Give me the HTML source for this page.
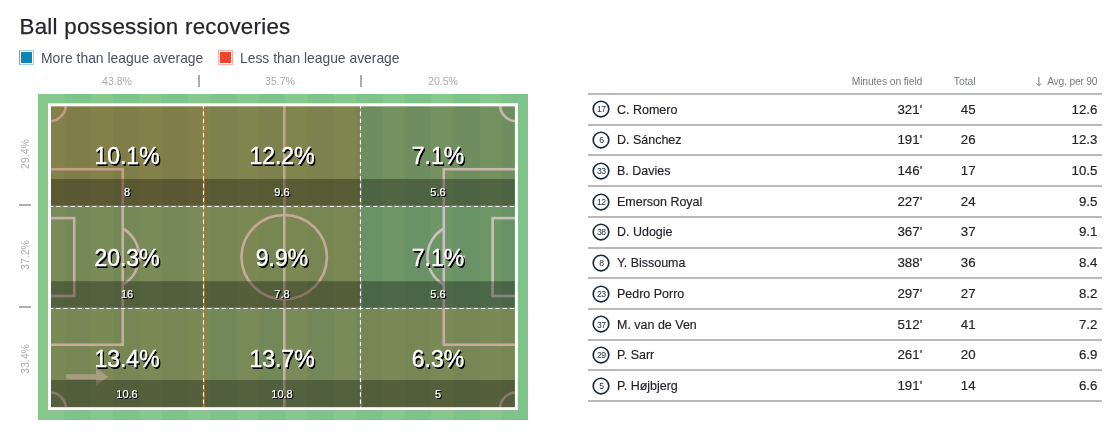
<!DOCTYPE html>
<html lang="en"><head><meta charset="utf-8"><title>Ball possession recoveries</title>
<style>
html,body{margin:0;padding:0;background:#fff}
body{width:1116px;height:436px;position:relative;overflow:hidden;font-family:"Liberation Sans", sans-serif;}
.pz{text-shadow:1.2px 1.2px 0.4px #000, 1px 1px 0 #000;}
.sm{-webkit-text-stroke:0.2px #fff;}
.big{-webkit-text-stroke:0.45px #fff;text-shadow:1.5px 1.5px 0.3px #000, 1.2px 1.2px 0 #000, 0.8px 0.8px 0 #000;}
.sq{position:absolute;box-sizing:border-box;width:15px;height:15px;top:50px;padding:1px;background-clip:content-box;}
.ln{position:absolute;left:588px;width:514px;height:2px;background:#b9b9b9;}
.num{position:absolute;width:18px;height:18px;left:592.4px;overflow:visible}
.num circle{fill:none;stroke:#17293f;stroke-width:1.65px}
.tb{-webkit-text-stroke:0.18px #24252c;}
</style></head><body>
<h1 style="position:absolute;top:11.97px;font-size:22.3px;line-height:29px;color:#25252f;white-space:nowrap;letter-spacing:0.27px;left:19.50px;margin:0;font-weight:400;-webkit-text-stroke:0.25px #25252f;">Ball possession recoveries</h1>
<div class="sq" style="left:19px;border:1px solid #a2d1e4;border-left-color:#5aaace;background-color:#0a87b8;"></div>
<div style="position:absolute;top:47.70px;font-size:15px;line-height:20px;color:#4b5160;white-space:nowrap;left:41.30px;transform:scaleX(.927);transform-origin:0 50%;">More than league average</div>
<div class="sq" style="left:218px;border:1px solid #f8b1a8;background-color:#ee4531;"></div>
<div style="position:absolute;top:47.70px;font-size:15px;line-height:20px;color:#4b5160;white-space:nowrap;left:240.10px;transform:scaleX(.924);transform-origin:0 50%;">Less than league average</div>
<div style="position:absolute;top:73.89px;font-size:11px;line-height:15px;color:#a9abb2;white-space:nowrap;left:-32.90px;width:300px;text-align:center;transform:scaleX(.955);">43.8%</div>
<div style="position:absolute;top:73.89px;font-size:11px;line-height:15px;color:#a9abb2;white-space:nowrap;left:129.80px;width:300px;text-align:center;transform:scaleX(.955);">35.7%</div>
<div style="position:absolute;top:73.89px;font-size:11px;line-height:15px;color:#a9abb2;white-space:nowrap;left:292.90px;width:300px;text-align:center;transform:scaleX(.955);">20.5%</div>
<div style="position:absolute;left:198px;top:75px;width:2px;height:12px;background:#adadad"></div>
<div style="position:absolute;left:360.2px;top:75px;width:2px;height:12px;background:#adadad"></div>
<div style="position:absolute;left:-5.1px;top:146.8px;width:60px;height:14px;line-height:14px;text-align:center;font-size:11px;color:#a9abb2;transform:rotate(-90deg) scaleX(.955);white-space:nowrap">29.4%</div>
<div style="position:absolute;left:-5.1px;top:248.2px;width:60px;height:14px;line-height:14px;text-align:center;font-size:11px;color:#a9abb2;transform:rotate(-90deg) scaleX(.955);white-space:nowrap">37.2%</div>
<div style="position:absolute;left:-5.1px;top:351.5px;width:60px;height:14px;line-height:14px;text-align:center;font-size:11px;color:#a9abb2;transform:rotate(-90deg) scaleX(.955);white-space:nowrap">33.4%</div>
<div style="position:absolute;left:19px;top:204px;width:12px;height:2px;background:#adadad"></div>
<div style="position:absolute;left:19px;top:306px;width:12px;height:2px;background:#adadad"></div>
<svg width="490" height="326" viewBox="38 94 490 326" style="position:absolute;left:38px;top:94px;display:block">
<rect x="38" y="94" width="490" height="326" fill="#86c78b"/>
<rect x="64.5" y="94" width="26.5" height="326" fill="#7ec38a"/>
<rect x="113.1" y="94" width="26.5" height="326" fill="#7ec38a"/>
<rect x="161.7" y="94" width="26.5" height="326" fill="#7ec38a"/>
<rect x="210.3" y="94" width="26.5" height="326" fill="#7ec38a"/>
<rect x="258.9" y="94" width="26.5" height="326" fill="#7ec38a"/>
<rect x="307.5" y="94" width="26.5" height="326" fill="#7ec38a"/>
<rect x="356.1" y="94" width="26.5" height="326" fill="#7ec38a"/>
<rect x="404.7" y="94" width="26.5" height="326" fill="#7ec38a"/>
<rect x="453.3" y="94" width="26.5" height="326" fill="#7ec38a"/>
<rect x="501.9" y="94" width="26.1" height="326" fill="#7ec38a"/>
<g fill="none" stroke="#fff" stroke-width="2.6">
<rect x="49.5" y="104.8" width="466.9" height="303.9"/>
<line x1="284.3" y1="104.8" x2="284.3" y2="408.7"/>
<ellipse cx="284.2" cy="257.1" rx="42.7" ry="42.1"/>
<rect x="49.5" y="169.25" width="73.25" height="175.5"/>
<rect x="443.8" y="169.25" width="72.60" height="175.5"/>
<rect x="49.5" y="218.1" width="24.70" height="77.90"/>
<rect x="492.6" y="218.1" width="23.80" height="77.90"/>
<path d="M122.75 228.5 A32.3 32.3 0 0 1 122.75 284.7"/>
<path d="M443.8 228.5 A32.3 32.3 0 0 0 443.8 284.7"/>
<path d="M65.9 104.8 A16.4 16.4 0 0 1 49.5 121.19999999999999"/>
<path d="M500.0 104.8 A16.4 16.4 0 0 0 516.4 121.19999999999999"/>
<path d="M65.9 408.7 A16.4 16.4 0 0 0 49.5 392.3"/>
<path d="M500.0 408.7 A16.4 16.4 0 0 1 516.4 392.3"/>
</g>
<circle cx="463.9" cy="256.7" r="1.3" fill="#fff"/>
<path d="M66.2 374.3H96V368.1L108.3 376.8L96 385.6V379.2H66.2Z" fill="#fff" fill-opacity="0.6"/>
<rect x="48" y="103.3" width="155.5" height="103.2" fill="rgb(130, 50, 0)" fill-opacity="0.475"/>
<rect x="48" y="179.0" width="155.5" height="27.5" fill="#000" fill-opacity="0.3"/>
<rect x="203.5" y="103.3" width="157.0" height="103.2" fill="rgb(122, 48, 0)" fill-opacity="0.445"/>
<rect x="203.5" y="179.0" width="157.0" height="27.5" fill="#000" fill-opacity="0.3"/>
<rect x="360.5" y="103.3" width="157.5" height="103.2" fill="rgb(78, 26, 0)" fill-opacity="0.31"/>
<rect x="360.5" y="179.0" width="157.5" height="27.5" fill="#000" fill-opacity="0.3"/>
<rect x="48" y="206.5" width="155.5" height="102.0" fill="rgb(100, 32, 0)" fill-opacity="0.36"/>
<rect x="48" y="281.2" width="155.5" height="27.3" fill="#000" fill-opacity="0.3"/>
<rect x="203.5" y="206.5" width="157.0" height="102.0" fill="rgb(109, 42, 0)" fill-opacity="0.4"/>
<rect x="203.5" y="281.2" width="157.0" height="27.3" fill="#000" fill-opacity="0.3"/>
<rect x="360.5" y="206.5" width="157.5" height="102.0" fill="rgb(46, 11, 0)" fill-opacity="0.26"/>
<rect x="360.5" y="281.2" width="157.5" height="27.3" fill="#000" fill-opacity="0.3"/>
<rect x="48" y="308.5" width="155.5" height="101.7" fill="rgb(106, 38, 0)" fill-opacity="0.385"/>
<rect x="48" y="380.0" width="155.5" height="30.2" fill="#000" fill-opacity="0.3"/>
<rect x="203.5" y="308.5" width="157.0" height="101.7" fill="rgb(96, 32, 0)" fill-opacity="0.355"/>
<rect x="203.5" y="380.0" width="157.0" height="30.2" fill="#000" fill-opacity="0.3"/>
<rect x="360.5" y="308.5" width="157.5" height="101.7" fill="rgb(104, 37, 0)" fill-opacity="0.38"/>
<rect x="360.5" y="380.0" width="157.5" height="30.2" fill="#000" fill-opacity="0.3"/>
<g stroke="#b06a24" stroke-opacity="0.75" stroke-width="0.9" fill="none">
<line x1="204.5" y1="103.3" x2="204.5" y2="410.2"/>
<line x1="361.5" y1="103.3" x2="361.5" y2="410.2"/>
<line x1="48" y1="205.5" x2="518" y2="205.5"/>
<line x1="48" y1="307.5" x2="518" y2="307.5"/>
</g>
<rect x="49.5" y="104.8" width="466.9" height="303.9" fill="none" stroke="#fff" stroke-width="3"/>
<g stroke="#fff" stroke-opacity="0.16" stroke-width="1.1" fill="none">
<line x1="203.5" y1="104.3" x2="203.5" y2="409.2"/>
<line x1="360.5" y1="104.3" x2="360.5" y2="409.2"/>
<line x1="49" y1="206.5" x2="517" y2="206.5"/>
<line x1="49" y1="308.5" x2="517" y2="308.5"/>
</g>
<g stroke="#fff" stroke-width="1.15" stroke-dasharray="4.2 3" fill="none">
<line x1="203.5" y1="104.3" x2="203.5" y2="409.2"/>
<line x1="360.5" y1="104.3" x2="360.5" y2="409.2"/>
<line x1="49" y1="206.5" x2="517" y2="206.5"/>
<line x1="49" y1="308.5" x2="517" y2="308.5"/>
</g>
</svg>
<div class="pz big" style="position:absolute;top:140.93px;font-size:23px;line-height:30px;color:#fff;white-space:nowrap;left:-23.00px;width:300px;text-align:center;">10.1%</div>
<div class="pz sm" style="position:absolute;top:184.69px;font-size:11px;line-height:15px;color:#fff;white-space:nowrap;left:-23.00px;width:300px;text-align:center;">8</div>
<div class="pz big" style="position:absolute;top:140.93px;font-size:23px;line-height:30px;color:#fff;white-space:nowrap;left:132.00px;width:300px;text-align:center;">12.2%</div>
<div class="pz sm" style="position:absolute;top:184.69px;font-size:11px;line-height:15px;color:#fff;white-space:nowrap;left:132.00px;width:300px;text-align:center;">9.6</div>
<div class="pz big" style="position:absolute;top:140.93px;font-size:23px;line-height:30px;color:#fff;white-space:nowrap;left:288.00px;width:300px;text-align:center;">7.1%</div>
<div class="pz sm" style="position:absolute;top:184.69px;font-size:11px;line-height:15px;color:#fff;white-space:nowrap;left:288.00px;width:300px;text-align:center;">5.6</div>
<div class="pz big" style="position:absolute;top:242.63px;font-size:23px;line-height:30px;color:#fff;white-space:nowrap;left:-23.00px;width:300px;text-align:center;">20.3%</div>
<div class="pz sm" style="position:absolute;top:286.69px;font-size:11px;line-height:15px;color:#fff;white-space:nowrap;left:-23.00px;width:300px;text-align:center;">16</div>
<div class="pz big" style="position:absolute;top:242.63px;font-size:23px;line-height:30px;color:#fff;white-space:nowrap;left:132.00px;width:300px;text-align:center;">9.9%</div>
<div class="pz sm" style="position:absolute;top:286.69px;font-size:11px;line-height:15px;color:#fff;white-space:nowrap;left:132.00px;width:300px;text-align:center;">7.8</div>
<div class="pz big" style="position:absolute;top:242.63px;font-size:23px;line-height:30px;color:#fff;white-space:nowrap;left:288.00px;width:300px;text-align:center;">7.1%</div>
<div class="pz sm" style="position:absolute;top:286.69px;font-size:11px;line-height:15px;color:#fff;white-space:nowrap;left:288.00px;width:300px;text-align:center;">5.6</div>
<div class="pz big" style="position:absolute;top:343.73px;font-size:23px;line-height:30px;color:#fff;white-space:nowrap;left:-23.00px;width:300px;text-align:center;">13.4%</div>
<div class="pz sm" style="position:absolute;top:386.59px;font-size:11px;line-height:15px;color:#fff;white-space:nowrap;left:-23.00px;width:300px;text-align:center;">10.6</div>
<div class="pz big" style="position:absolute;top:343.73px;font-size:23px;line-height:30px;color:#fff;white-space:nowrap;left:132.00px;width:300px;text-align:center;">13.7%</div>
<div class="pz sm" style="position:absolute;top:386.59px;font-size:11px;line-height:15px;color:#fff;white-space:nowrap;left:132.00px;width:300px;text-align:center;">10.8</div>
<div class="pz big" style="position:absolute;top:343.73px;font-size:23px;line-height:30px;color:#fff;white-space:nowrap;left:288.00px;width:300px;text-align:center;">6.3%</div>
<div class="pz sm" style="position:absolute;top:386.59px;font-size:11px;line-height:15px;color:#fff;white-space:nowrap;left:288.00px;width:300px;text-align:center;">5</div>
<div style="position:absolute;top:74.63px;font-size:10.3px;line-height:14px;color:#777b82;white-space:nowrap;letter-spacing:-0.1px;right:193.80px;">Minutes on field</div>
<div style="position:absolute;top:74.63px;font-size:10.3px;line-height:14px;color:#777b82;white-space:nowrap;right:140.40px;">Total</div>
<div style="position:absolute;top:74.63px;font-size:10.3px;line-height:14px;color:#777b82;white-space:nowrap;letter-spacing:-0.2px;right:18.60px;">Avg. per 90</div>
<svg width="8" height="12" viewBox="1035 76 8 12" style="position:absolute;left:1035px;top:76px"><path d="M1038.9 77V85.4M1036.7 83.4L1038.9 85.7L1041.1 83.4" fill="none" stroke="#74777e" stroke-width="1"/></svg>
<div class="ln" style="top:93.00px"></div>
<div class="ln" style="top:123.72px"></div>
<div class="ln" style="top:154.44px"></div>
<div class="ln" style="top:185.16px"></div>
<div class="ln" style="top:215.88px"></div>
<div class="ln" style="top:246.60px"></div>
<div class="ln" style="top:277.32px"></div>
<div class="ln" style="top:308.04px"></div>
<div class="ln" style="top:338.76px"></div>
<div class="ln" style="top:369.48px"></div>
<div class="ln" style="top:400.20px"></div>
<svg class="num" style="top:100.45px" viewBox="0 0 18 18"><circle cx="9" cy="9" r="7.8"/></svg>
<div style="position:absolute;top:103.47px;font-size:8.6px;line-height:12px;color:#17293f;white-space:nowrap;letter-spacing:-0.45px;left:451.55px;width:300px;text-align:center;text-indent:-0.45px;">17</div>
<div class="tb" style="position:absolute;top:100.56px;font-size:13.4px;line-height:18px;color:#24252c;white-space:nowrap;left:617.00px;transform:scaleX(.932);transform-origin:0 50%;">C. Romero</div>
<div class="tb" style="position:absolute;top:100.59px;font-size:13.3px;line-height:18px;color:#24252c;white-space:nowrap;right:193.80px;">321'</div>
<div class="tb" style="position:absolute;top:100.59px;font-size:13.3px;line-height:18px;color:#24252c;white-space:nowrap;right:140.40px;">45</div>
<div class="tb" style="position:absolute;top:100.59px;font-size:13.3px;line-height:18px;color:#24252c;white-space:nowrap;right:18.60px;">12.6</div>
<svg class="num" style="top:131.17px" viewBox="0 0 18 18"><circle cx="9" cy="9" r="7.8"/></svg>
<div style="position:absolute;top:134.19px;font-size:8.6px;line-height:12px;color:#17293f;white-space:nowrap;letter-spacing:-0.45px;left:451.55px;width:300px;text-align:center;text-indent:-0.45px;">6</div>
<div class="tb" style="position:absolute;top:131.28px;font-size:13.4px;line-height:18px;color:#24252c;white-space:nowrap;left:617.00px;transform:scaleX(.932);transform-origin:0 50%;">D. Sánchez</div>
<div class="tb" style="position:absolute;top:131.31px;font-size:13.3px;line-height:18px;color:#24252c;white-space:nowrap;right:193.80px;">191'</div>
<div class="tb" style="position:absolute;top:131.31px;font-size:13.3px;line-height:18px;color:#24252c;white-space:nowrap;right:140.40px;">26</div>
<div class="tb" style="position:absolute;top:131.31px;font-size:13.3px;line-height:18px;color:#24252c;white-space:nowrap;right:18.60px;">12.3</div>
<svg class="num" style="top:161.89px" viewBox="0 0 18 18"><circle cx="9" cy="9" r="7.8"/></svg>
<div style="position:absolute;top:164.91px;font-size:8.6px;line-height:12px;color:#17293f;white-space:nowrap;letter-spacing:-0.45px;left:451.55px;width:300px;text-align:center;text-indent:-0.45px;">33</div>
<div class="tb" style="position:absolute;top:162.00px;font-size:13.4px;line-height:18px;color:#24252c;white-space:nowrap;left:617.00px;transform:scaleX(.932);transform-origin:0 50%;">B. Davies</div>
<div class="tb" style="position:absolute;top:162.03px;font-size:13.3px;line-height:18px;color:#24252c;white-space:nowrap;right:193.80px;">146'</div>
<div class="tb" style="position:absolute;top:162.03px;font-size:13.3px;line-height:18px;color:#24252c;white-space:nowrap;right:140.40px;">17</div>
<div class="tb" style="position:absolute;top:162.03px;font-size:13.3px;line-height:18px;color:#24252c;white-space:nowrap;right:18.60px;">10.5</div>
<svg class="num" style="top:192.61px" viewBox="0 0 18 18"><circle cx="9" cy="9" r="7.8"/></svg>
<div style="position:absolute;top:195.63px;font-size:8.6px;line-height:12px;color:#17293f;white-space:nowrap;letter-spacing:-0.45px;left:451.55px;width:300px;text-align:center;text-indent:-0.45px;">12</div>
<div class="tb" style="position:absolute;top:192.72px;font-size:13.4px;line-height:18px;color:#24252c;white-space:nowrap;left:617.00px;transform:scaleX(.932);transform-origin:0 50%;">Emerson Royal</div>
<div class="tb" style="position:absolute;top:192.75px;font-size:13.3px;line-height:18px;color:#24252c;white-space:nowrap;right:193.80px;">227'</div>
<div class="tb" style="position:absolute;top:192.75px;font-size:13.3px;line-height:18px;color:#24252c;white-space:nowrap;right:140.40px;">24</div>
<div class="tb" style="position:absolute;top:192.75px;font-size:13.3px;line-height:18px;color:#24252c;white-space:nowrap;right:18.60px;">9.5</div>
<svg class="num" style="top:223.33px" viewBox="0 0 18 18"><circle cx="9" cy="9" r="7.8"/></svg>
<div style="position:absolute;top:226.35px;font-size:8.6px;line-height:12px;color:#17293f;white-space:nowrap;letter-spacing:-0.45px;left:451.55px;width:300px;text-align:center;text-indent:-0.45px;">38</div>
<div class="tb" style="position:absolute;top:223.44px;font-size:13.4px;line-height:18px;color:#24252c;white-space:nowrap;left:617.00px;transform:scaleX(.932);transform-origin:0 50%;">D. Udogie</div>
<div class="tb" style="position:absolute;top:223.47px;font-size:13.3px;line-height:18px;color:#24252c;white-space:nowrap;right:193.80px;">367'</div>
<div class="tb" style="position:absolute;top:223.47px;font-size:13.3px;line-height:18px;color:#24252c;white-space:nowrap;right:140.40px;">37</div>
<div class="tb" style="position:absolute;top:223.47px;font-size:13.3px;line-height:18px;color:#24252c;white-space:nowrap;right:18.60px;">9.1</div>
<svg class="num" style="top:254.05px" viewBox="0 0 18 18"><circle cx="9" cy="9" r="7.8"/></svg>
<div style="position:absolute;top:257.07px;font-size:8.6px;line-height:12px;color:#17293f;white-space:nowrap;letter-spacing:-0.45px;left:451.55px;width:300px;text-align:center;text-indent:-0.45px;">8</div>
<div class="tb" style="position:absolute;top:254.16px;font-size:13.4px;line-height:18px;color:#24252c;white-space:nowrap;left:617.00px;transform:scaleX(.932);transform-origin:0 50%;">Y. Bissouma</div>
<div class="tb" style="position:absolute;top:254.19px;font-size:13.3px;line-height:18px;color:#24252c;white-space:nowrap;right:193.80px;">388'</div>
<div class="tb" style="position:absolute;top:254.19px;font-size:13.3px;line-height:18px;color:#24252c;white-space:nowrap;right:140.40px;">36</div>
<div class="tb" style="position:absolute;top:254.19px;font-size:13.3px;line-height:18px;color:#24252c;white-space:nowrap;right:18.60px;">8.4</div>
<svg class="num" style="top:284.77px" viewBox="0 0 18 18"><circle cx="9" cy="9" r="7.8"/></svg>
<div style="position:absolute;top:287.79px;font-size:8.6px;line-height:12px;color:#17293f;white-space:nowrap;letter-spacing:-0.45px;left:451.55px;width:300px;text-align:center;text-indent:-0.45px;">23</div>
<div class="tb" style="position:absolute;top:284.88px;font-size:13.4px;line-height:18px;color:#24252c;white-space:nowrap;left:617.00px;transform:scaleX(.932);transform-origin:0 50%;">Pedro Porro</div>
<div class="tb" style="position:absolute;top:284.91px;font-size:13.3px;line-height:18px;color:#24252c;white-space:nowrap;right:193.80px;">297'</div>
<div class="tb" style="position:absolute;top:284.91px;font-size:13.3px;line-height:18px;color:#24252c;white-space:nowrap;right:140.40px;">27</div>
<div class="tb" style="position:absolute;top:284.91px;font-size:13.3px;line-height:18px;color:#24252c;white-space:nowrap;right:18.60px;">8.2</div>
<svg class="num" style="top:315.49px" viewBox="0 0 18 18"><circle cx="9" cy="9" r="7.8"/></svg>
<div style="position:absolute;top:318.51px;font-size:8.6px;line-height:12px;color:#17293f;white-space:nowrap;letter-spacing:-0.45px;left:451.55px;width:300px;text-align:center;text-indent:-0.45px;">37</div>
<div class="tb" style="position:absolute;top:315.60px;font-size:13.4px;line-height:18px;color:#24252c;white-space:nowrap;left:617.00px;transform:scaleX(.932);transform-origin:0 50%;">M. van de Ven</div>
<div class="tb" style="position:absolute;top:315.63px;font-size:13.3px;line-height:18px;color:#24252c;white-space:nowrap;right:193.80px;">512'</div>
<div class="tb" style="position:absolute;top:315.63px;font-size:13.3px;line-height:18px;color:#24252c;white-space:nowrap;right:140.40px;">41</div>
<div class="tb" style="position:absolute;top:315.63px;font-size:13.3px;line-height:18px;color:#24252c;white-space:nowrap;right:18.60px;">7.2</div>
<svg class="num" style="top:346.21px" viewBox="0 0 18 18"><circle cx="9" cy="9" r="7.8"/></svg>
<div style="position:absolute;top:349.23px;font-size:8.6px;line-height:12px;color:#17293f;white-space:nowrap;letter-spacing:-0.45px;left:451.55px;width:300px;text-align:center;text-indent:-0.45px;">29</div>
<div class="tb" style="position:absolute;top:346.32px;font-size:13.4px;line-height:18px;color:#24252c;white-space:nowrap;left:617.00px;transform:scaleX(.932);transform-origin:0 50%;">P. Sarr</div>
<div class="tb" style="position:absolute;top:346.35px;font-size:13.3px;line-height:18px;color:#24252c;white-space:nowrap;right:193.80px;">261'</div>
<div class="tb" style="position:absolute;top:346.35px;font-size:13.3px;line-height:18px;color:#24252c;white-space:nowrap;right:140.40px;">20</div>
<div class="tb" style="position:absolute;top:346.35px;font-size:13.3px;line-height:18px;color:#24252c;white-space:nowrap;right:18.60px;">6.9</div>
<svg class="num" style="top:376.93px" viewBox="0 0 18 18"><circle cx="9" cy="9" r="7.8"/></svg>
<div style="position:absolute;top:379.95px;font-size:8.6px;line-height:12px;color:#17293f;white-space:nowrap;letter-spacing:-0.45px;left:451.55px;width:300px;text-align:center;text-indent:-0.45px;">5</div>
<div class="tb" style="position:absolute;top:377.04px;font-size:13.4px;line-height:18px;color:#24252c;white-space:nowrap;left:617.00px;transform:scaleX(.932);transform-origin:0 50%;">P. Højbjerg</div>
<div class="tb" style="position:absolute;top:377.07px;font-size:13.3px;line-height:18px;color:#24252c;white-space:nowrap;right:193.80px;">191'</div>
<div class="tb" style="position:absolute;top:377.07px;font-size:13.3px;line-height:18px;color:#24252c;white-space:nowrap;right:140.40px;">14</div>
<div class="tb" style="position:absolute;top:377.07px;font-size:13.3px;line-height:18px;color:#24252c;white-space:nowrap;right:18.60px;">6.6</div>
</body></html>
